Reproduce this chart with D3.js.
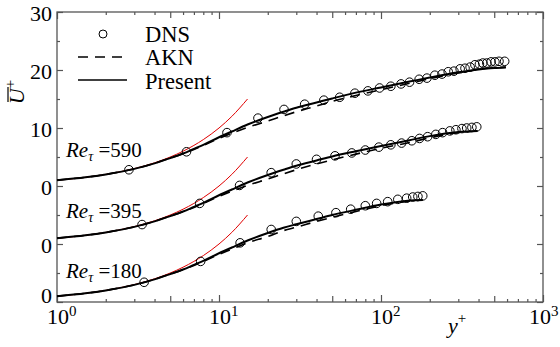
<!DOCTYPE html>
<html>
<head>
<meta charset="utf-8">
<script src="https://cdn.jsdelivr.net/npm/d3@7"></script>
<style>
  body { margin: 0; background: #fff; }
</style>
</head>
<body>
<svg id="chart" width="560" height="347"></svg>
<script>
// offsets used to stack the three profiles
var offsets = [20, 10, 0];
var reLabels = ["590", "395", "180"];

// DNS points (y+, U+)
var dnsY590 = [2.78, 6.3, 11.2, 17.4, 25.2, 33.8, 44.4, 55.6, 69, 83, 98, 115, 133, 150, 172, 192, 215, 238, 260, 282, 308, 330, 355, 380, 405, 425, 450, 478, 505, 535, 580];
var dnsU590 = [2.8, 5.9, 9.2, 11.7, 13.2, 14.1, 14.8, 15.3, 16.0, 16.4, 16.9, 17.2, 17.6, 17.9, 18.4, 18.6, 19.1, 19.3, 19.7, 19.8, 20.2, 20.3, 20.5, 20.9, 21.0, 21.2, 21.2, 21.4, 21.4, 21.5, 21.5];
var dnsY395 = [3.35, 7.6, 13.4, 21, 30, 40, 52, 66, 80, 97, 115, 134, 155, 173, 194, 218, 240, 266, 290, 316, 338, 364, 390];
var dnsU395 = [3.35, 7.0, 10.1, 12.3, 13.8, 14.6, 15.2, 15.7, 16.2, 16.7, 17.1, 17.4, 17.8, 18.2, 18.5, 18.9, 19.2, 19.5, 19.7, 19.9, 20.0, 20.1, 20.2];
var dnsY180 = [3.45, 7.7, 13.5, 21, 30, 41, 52.7, 65, 80, 94, 110, 127, 144, 157, 169, 181];
var dnsU180 = [3.4, 7.0, 10.2, 12.5, 13.9, 14.8, 15.4, 16.0, 16.6, 17.0, 17.3, 17.7, 17.9, 18.1, 18.2, 18.3];

// Present model (y+, U+)
var presY590 = [1, 1.5, 2, 3, 4, 5, 6, 7, 8, 10, 12, 15, 20, 25, 30, 40, 50, 70, 100, 150, 200, 300, 400, 500, 590];
var presU590 = [1.0, 1.5, 2.0, 2.95, 3.9, 4.8, 5.6, 6.4, 7.1, 8.4, 9.4, 10.6, 11.9, 12.8, 13.5, 14.4, 15.1, 16.1, 17.0, 18.0, 18.7, 19.6, 20.1, 20.35, 20.45];
var presY395 = [1, 1.5, 2, 3, 4, 5, 6, 7, 8, 10, 12, 15, 20, 25, 30, 40, 50, 70, 100, 150, 200, 300, 395];
var presU395 = [1.0, 1.5, 2.0, 2.95, 3.9, 4.8, 5.6, 6.4, 7.1, 8.4, 9.4, 10.6, 11.9, 12.8, 13.5, 14.4, 15.1, 16.0, 16.9, 17.9, 18.6, 19.3, 19.5];
var presY180 = [1, 1.5, 2, 3, 4, 5, 6, 7, 8, 10, 12, 15, 20, 25, 30, 40, 50, 70, 100, 130, 160, 181];
var presU180 = [1.0, 1.5, 2.0, 2.95, 3.9, 4.8, 5.6, 6.4, 7.1, 8.4, 9.4, 10.6, 11.9, 12.8, 13.4, 14.3, 15.0, 15.9, 16.8, 17.3, 17.55, 17.6];

// AKN model (y+, U+)
var aknY590 = [1, 2, 3, 5, 7, 10, 12, 15, 20, 25, 30, 40, 50, 70, 100, 150, 200, 300, 400, 500, 590];
var aknU590 = [1.0, 2.0, 2.95, 4.8, 6.3, 8.2, 9.1, 10.1, 11.2, 12.1, 12.8, 13.8, 14.6, 15.6, 16.6, 17.7, 18.5, 19.5, 20.1, 20.4, 20.5];
var aknY395 = [1, 2, 3, 5, 7, 10, 12, 15, 20, 25, 30, 40, 50, 70, 100, 150, 200, 300, 395];
var aknU395 = [1.0, 2.0, 2.95, 4.8, 6.3, 8.2, 9.1, 10.1, 11.2, 12.1, 12.8, 13.8, 14.5, 15.5, 16.5, 17.5, 18.3, 19.2, 19.5];
var aknY180 = [1, 2, 3, 5, 7, 10, 12, 15, 20, 25, 30, 40, 50, 70, 100, 150, 181];
var aknU180 = [1.0, 2.0, 2.95, 4.8, 6.3, 8.2, 9.1, 10.2, 11.3, 12.3, 12.9, 13.9, 14.6, 15.6, 16.6, 17.4, 17.6];

// viscous sublayer U+ = y+
var linY = [1, 1.5, 2, 3, 4, 5, 6, 7, 8, 10, 12, 15];
var linU = [1, 1.5, 2, 3, 4, 5, 6, 7, 8, 10, 12, 15];

// axis ticks
var yMajor = [0, 10, 20, 30, 40, 50];
var yMajorLabels = ["0", "0", "0", "10", "20", "30"];
var yMinor = [5, 15, 25, 35, 45];
var xDecades = [1, 10, 100, 1000];
var xExponents = ["0", "1", "2", "3"];
var xMid = [5, 50, 500];
var xMinor = [2, 3, 4, 6, 7, 8, 9, 20, 30, 40, 60, 70, 80, 90, 200, 300, 400, 600, 700, 800, 900];

var svg = d3.select("#chart");
var x = d3.scaleLog().domain([1, 1000]).range([57, 543]);
var y = d3.scaleLinear().domain([0, 50]).range([302, 12]);
var serif = "'Liberation Serif', 'Times New Roman', serif";

function pts(ys, us, off) {
  return ys.map(function(v, i) { return [v, us[i] + off]; });
}

var line = d3.line()
  .x(function(d) { return x(d[0]); })
  .y(function(d) { return y(d[1]); })
  .curve(d3.curveMonotoneX);

var sets = [
  {dY: dnsY590, dU: dnsU590, pY: presY590, pU: presU590, aY: aknY590, aU: aknU590},
  {dY: dnsY395, dU: dnsU395, pY: presY395, pU: presU395, aY: aknY395, aU: aknU395},
  {dY: dnsY180, dU: dnsU180, pY: presY180, pU: presU180, aY: aknY180, aU: aknU180}
];

// ticks
var axisCol = "#555";
function tickAxis(axis, vals, size) {
  return axis.tickValues(vals).tickSize(size).tickFormat("");
}
[[xMinor, 3], [xMid, 6], [xDecades, 7]].forEach(function(t) {
  svg.append("g").attr("transform", "translate(0,302)").call(tickAxis(d3.axisBottom(x), t[0], -t[1]));
  svg.append("g").attr("transform", "translate(0,12)").call(tickAxis(d3.axisTop(x), t[0], -t[1]));
});
[[yMinor, 3], [yMajor, 6]].forEach(function(t) {
  svg.append("g").attr("transform", "translate(57,0)").call(tickAxis(d3.axisLeft(y), t[0], -t[1]));
  svg.append("g").attr("transform", "translate(543,0)").call(tickAxis(d3.axisRight(y), t[0], -t[1]));
});
svg.selectAll(".domain").remove();
svg.selectAll(".tick line").attr("stroke", axisCol).attr("stroke-width", 1.2);

svg.append("rect")
  .attr("x", 57).attr("y", 12).attr("width", 486).attr("height", 290)
  .attr("fill", "none").attr("stroke", axisCol).attr("stroke-width", 1.3);

// tick labels (bottom "0" sits raised, as in the original)
svg.selectAll(".ylab").data(yMajor).enter().append("text")
  .attr("x", 52).attr("y", function(d) { return y(d) + (d === 0 ? 1 : 9); })
  .attr("text-anchor", "end").style("font-size", "22px").style("font-family", serif)
  .text(function(d, i) { return yMajorLabels[i]; });

// last decade label nudged in so it stays inside the page
var xl = svg.selectAll(".xlab").data(xDecades).enter().append("text")
  .attr("x", function(d) { return x(d) - (d === 1000 ? 14 : 10); }).attr("y", 324)
  .style("font-size", "22px").style("font-family", serif);
xl.append("tspan").text("10");
xl.append("tspan").attr("dy", -8).style("font-size", "15px")
  .text(function(d, i) { return xExponents[i]; });

// red sublayer lines
offsets.forEach(function(off) {
  svg.append("path").attr("d", line(pts(linY, linU, off)))
    .attr("fill", "none").attr("stroke", "#e00000").attr("stroke-width", 1);
});

// model lines
sets.forEach(function(s, i) {
  svg.append("path").attr("d", line(pts(s.aY, s.aU, offsets[i])))
    .attr("fill", "none").attr("stroke", "#000").attr("stroke-width", 1.6)
    .attr("stroke-dasharray", "10,7");
  svg.append("path").attr("d", line(pts(s.pY, s.pU, offsets[i])))
    .attr("fill", "none").attr("stroke", "#000").attr("stroke-width", 2);
  svg.append("g").selectAll("circle").data(pts(s.dY, s.dU, offsets[i])).enter()
    .append("circle")
    .attr("cx", function(d) { return x(d[0]); })
    .attr("cy", function(d) { return y(d[1]); })
    .attr("r", 4.3).attr("fill", "none").attr("stroke", "#000").attr("stroke-width", 1);
});

// Re labels
var reBase = [157, 218, 278];
reLabels.forEach(function(r, i) {
  var t = svg.append("text").attr("x", 66).attr("y", reBase[i])
    .style("font-size", "21px").style("font-family", serif);
  t.append("tspan").style("font-style", "italic").text("Re");
  t.append("tspan").style("font-style", "italic").style("font-size", "14px").attr("dy", 4).text("\u03c4");
  t.append("tspan").attr("dy", -4).text(" =" + r);
});

// legend
svg.append("circle").attr("cx", 103).attr("cy", 34).attr("r", 4)
  .attr("fill", "none").attr("stroke", "#000");
svg.append("line").attr("x1", 78).attr("x2", 127).attr("y1", 57).attr("y2", 57)
  .attr("stroke", "#000").attr("stroke-width", 1.6).attr("stroke-dasharray", "10,7");
svg.append("line").attr("x1", 78).attr("x2", 127).attr("y1", 80).attr("y2", 80)
  .attr("stroke", "#000").attr("stroke-width", 1.6);
var legNames = ["DNS", "AKN", "Present"];
var legBase = [42, 65, 89];
legNames.forEach(function(n, i) {
  svg.append("text").attr("x", 145).attr("y", legBase[i])
    .style("font-size", "22.5px").style("font-family", serif).text(n);
});

// axis titles
var yt = svg.append("g").attr("transform", "translate(24,92) rotate(-90)");
var ytt = yt.append("text").attr("text-anchor", "middle")
  .style("font-size", "22px").style("font-family", serif);
ytt.append("tspan").style("font-style", "italic").text("U");
ytt.append("tspan").style("font-size", "15px").attr("dy", -9).text("+");
yt.append("line").attr("x1", -10).attr("x2", 5).attr("y1", -16).attr("y2", -16)
  .attr("stroke", "#000").attr("stroke-width", 1.2);

var xt = svg.append("text").attr("x", 448).attr("y", 333)
  .style("font-size", "22px").style("font-family", serif);
xt.append("tspan").style("font-style", "italic").text("y");
xt.append("tspan").style("font-size", "15px").attr("dy", -10).text("+");
</script>
</body>
</html>
